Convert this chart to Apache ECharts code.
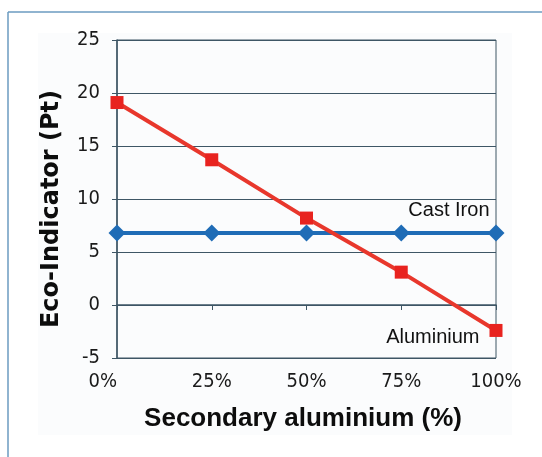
<!DOCTYPE html>
<html>
<head>
<meta charset="utf-8">
<script src="https://cdn.jsdelivr.net/npm/echarts@6/dist/echarts.min.js"></script>
<style>
  html, body { margin: 0; padding: 0; background: #ffffff; }
  #chart { width: 542px; height: 457px; }
</style>
</head>
<body>
<div id="chart"></div>
<script>
// Share of secondary aluminium used (x axis categories)
const shares = ['0%', '25%', '50%', '75%', '100%'];
// Eco-Indicator scores (Pt)
const aluminium = [19.1, 13.7, 8.2, 3.1, -2.4];
const castIron = [6.8, 6.8, 6.8, 6.8, 6.8];
// Value axis ticks
const yTicks = [-5, 0, 5, 10, 15, 20, 25];

const narrow = "'DejaVu Sans Condensed', 'Liberation Sans Narrow', sans-serif";
const sans = "'Liberation Sans', Arial, sans-serif";
const wide = "'DejaVu Sans', 'Liberation Sans', sans-serif";
const gridColor = '#3e5665';

const chart = echarts.init(document.getElementById('chart'), null, { renderer: 'canvas' });

function lastLabel(text, pos) {
  return {
    show: true,
    formatter: text,
    position: pos,
    align: 'right',
    verticalAlign: 'middle',
    fontFamily: sans,
    fontSize: 20,
    color: '#111111'
  };
}

chart.setOption({
  animation: false,
  backgroundColor: '#ffffff',
  graphic: [
    { type: 'rect', z: -10, shape: { x: 38, y: 33, width: 474, height: 402 }, style: { fill: '#fbfcfd' } },
    { type: 'line', z: -5, shape: { x1: 8, y1: 12, x2: 542, y2: 12 }, style: { stroke: '#6b9bc0', lineWidth: 1.5 } },
    { type: 'line', z: -5, shape: { x1: 8, y1: 12, x2: 8, y2: 457 }, style: { stroke: '#6b9bc0', lineWidth: 1.5 } }
  ],
  grid: {
    left: 117, right: 46, top: 40, bottom: 99,
    show: true, borderColor: gridColor, borderWidth: 1, backgroundColor: 'transparent'
  },
  xAxis: {
    type: 'category',
    data: shares,
    boundaryGap: false,
    name: 'Secondary aluminium (%)',
    nameLocation: 'middle',
    nameGap: 48,
    nameTextStyle: { fontFamily: sans, fontWeight: 'bold', fontSize: 26, color: '#0d0d0d', padding: [0, 7, 0, 0] },
    axisLine: { lineStyle: { color: gridColor, width: 1.5 } },
    axisTick: { show: true, length: 5, lineStyle: { color: gridColor } },
    axisLabel: { fontFamily: narrow, fontSize: 20, color: '#1a1a1a', margin: 14, alignMinLabel: 'right' },
    splitLine: { show: false }
  },
  yAxis: {
    type: 'value',
    min: yTicks[0],
    max: yTicks[yTicks.length - 1],
    interval: 5,
    name: 'Eco-Indicator (Pt)',
    nameLocation: 'middle',
    nameGap: 53,
    nameTextStyle: { fontFamily: wide, fontWeight: 'bold', fontSize: 24, color: '#0d0d0d', padding: [0, 20, 0, 0] },
    axisLine: { show: true, lineStyle: { color: gridColor, width: 1.5 } },
    axisTick: { show: true, length: 5, lineStyle: { color: gridColor } },
    axisLabel: { fontFamily: narrow, fontSize: 20, color: '#1a1a1a', margin: 17 },
    splitLine: { show: true, lineStyle: { color: gridColor, width: 1 } }
  },
  series: [
    {
      name: 'Cast Iron',
      type: 'line',
      data: castIron.map((v, i) => i === castIron.length - 1
        ? { value: v, label: lastLabel('Cast Iron', [2, -14]) }
        : v),
      symbol: 'diamond',
      symbolSize: 17,
      lineStyle: { color: '#1f6cb6', width: 4 },
      itemStyle: { color: '#1f6cb6' },
      z: 3
    },
    {
      name: 'Aluminium',
      type: 'line',
      data: aluminium.map((v, i) => i === aluminium.length - 1
        ? { value: v, label: lastLabel('Aluminium', [-10, 14]) }
        : v),
      symbol: 'rect',
      symbolSize: 13,
      lineStyle: { color: '#e8372c', width: 4 },
      itemStyle: { color: '#e8231f' },
      z: 4
    }
  ]
});
</script>
</body>
</html>
